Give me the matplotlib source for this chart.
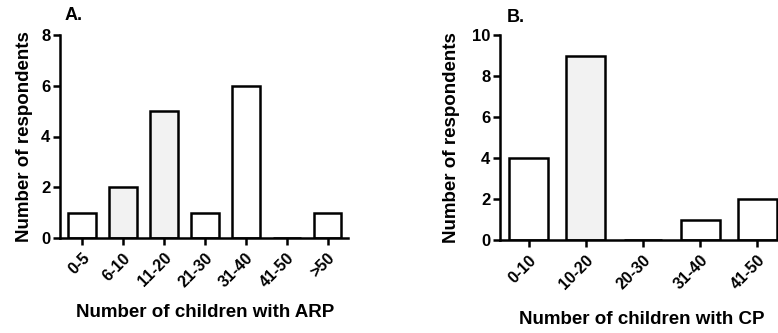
import matplotlib.pyplot as plt

plt.rcParams['font.family'] = ['Liberation Sans', 'DejaVu Sans']
plt.rcParams['font.weight'] = 'bold'

arp_groups = ['0-5', '6-10', '11-20', '21-30', '31-40', '41-50', '>50']
arp_counts = [1, 2, 5, 1, 6, 0, 1]
arp_colors = ['white', '#f2f2f2', '#f2f2f2', 'white', 'white', 'white', 'white']

cp_groups = ['0-10', '10-20', '20-30', '31-40', '41-50']
cp_counts = [4, 9, 0, 1, 2]
cp_colors = ['white', '#f2f2f2', 'white', 'white', 'white']

W, H = 778, 333
fig = plt.figure(figsize=(W / 100, H / 100), dpi=100)
LW = 1.8


def px_axes(x0, x1, ytop, ybot):
    return fig.add_axes([x0 / W, (H - ybot) / H, (x1 - x0) / W, (ybot - ytop) / H])


def style(ax, ymax, step):
    for s in ['top', 'right']:
        ax.spines[s].set_visible(False)
    for s in ['left', 'bottom']:
        ax.spines[s].set_linewidth(LW)
    ax.set_ylim(0, ymax)
    ax.set_yticks(range(0, ymax + 1, step))
    ax.tick_params(width=LW, length=5, labelsize=12, pad=2)
    ax.tick_params(axis='x', pad=4)
    for lab in ax.get_xticklabels():
        lab.set_rotation(45)
        lab.set_ha('right')
        lab.set_rotation_mode('anchor')
        lab.set_fontsize(11.5)
    ax.set_ylabel('Number of respondents', fontsize=13.5, fontweight='bold',
                  va='center')


# panel A
ax1 = px_axes(60, 348, 35, 238)
ax1.bar(range(len(arp_groups)), arp_counts, width=0.68, color=arp_colors,
        edgecolor='black', linewidth=LW)
ax1.set_xticks(range(len(arp_groups)))
ax1.set_xticklabels(arp_groups)
ax1.set_xlim(-0.54, 6.5)
style(ax1, 8, 2)
ax1.set_xlabel('Number of children with ARP', fontsize=13.5, fontweight='bold',
               va='center')
ax1.xaxis.set_label_coords(0.503, -0.369)
ax1.yaxis.set_label_coords(-0.122, 0.5)
fig.text(65 / W, 1 - 15 / H, 'A.', fontsize=13, fontweight='bold', va='center')

# panel B
ax2 = px_axes(500, 786, 35, 240)
ax2.bar(range(len(cp_groups)), cp_counts, width=0.68, color=cp_colors,
        edgecolor='black', linewidth=LW)
ax2.set_xticks(range(len(cp_groups)))
ax2.set_xticklabels(cp_groups)
ax2.set_xlim(-0.5, 4.5)
style(ax2, 10, 2)
ax2.set_xlabel('Number of children with CP', fontsize=13.5, fontweight='bold',
               va='center')
ax2.xaxis.set_label_coords(0.497, -0.39)
ax2.yaxis.set_label_coords(-0.168, 0.5)
fig.text(507 / W, 1 - 17 / H, 'B.', fontsize=13, fontweight='bold', va='center')

fig.savefig('out.png', dpi=100)
